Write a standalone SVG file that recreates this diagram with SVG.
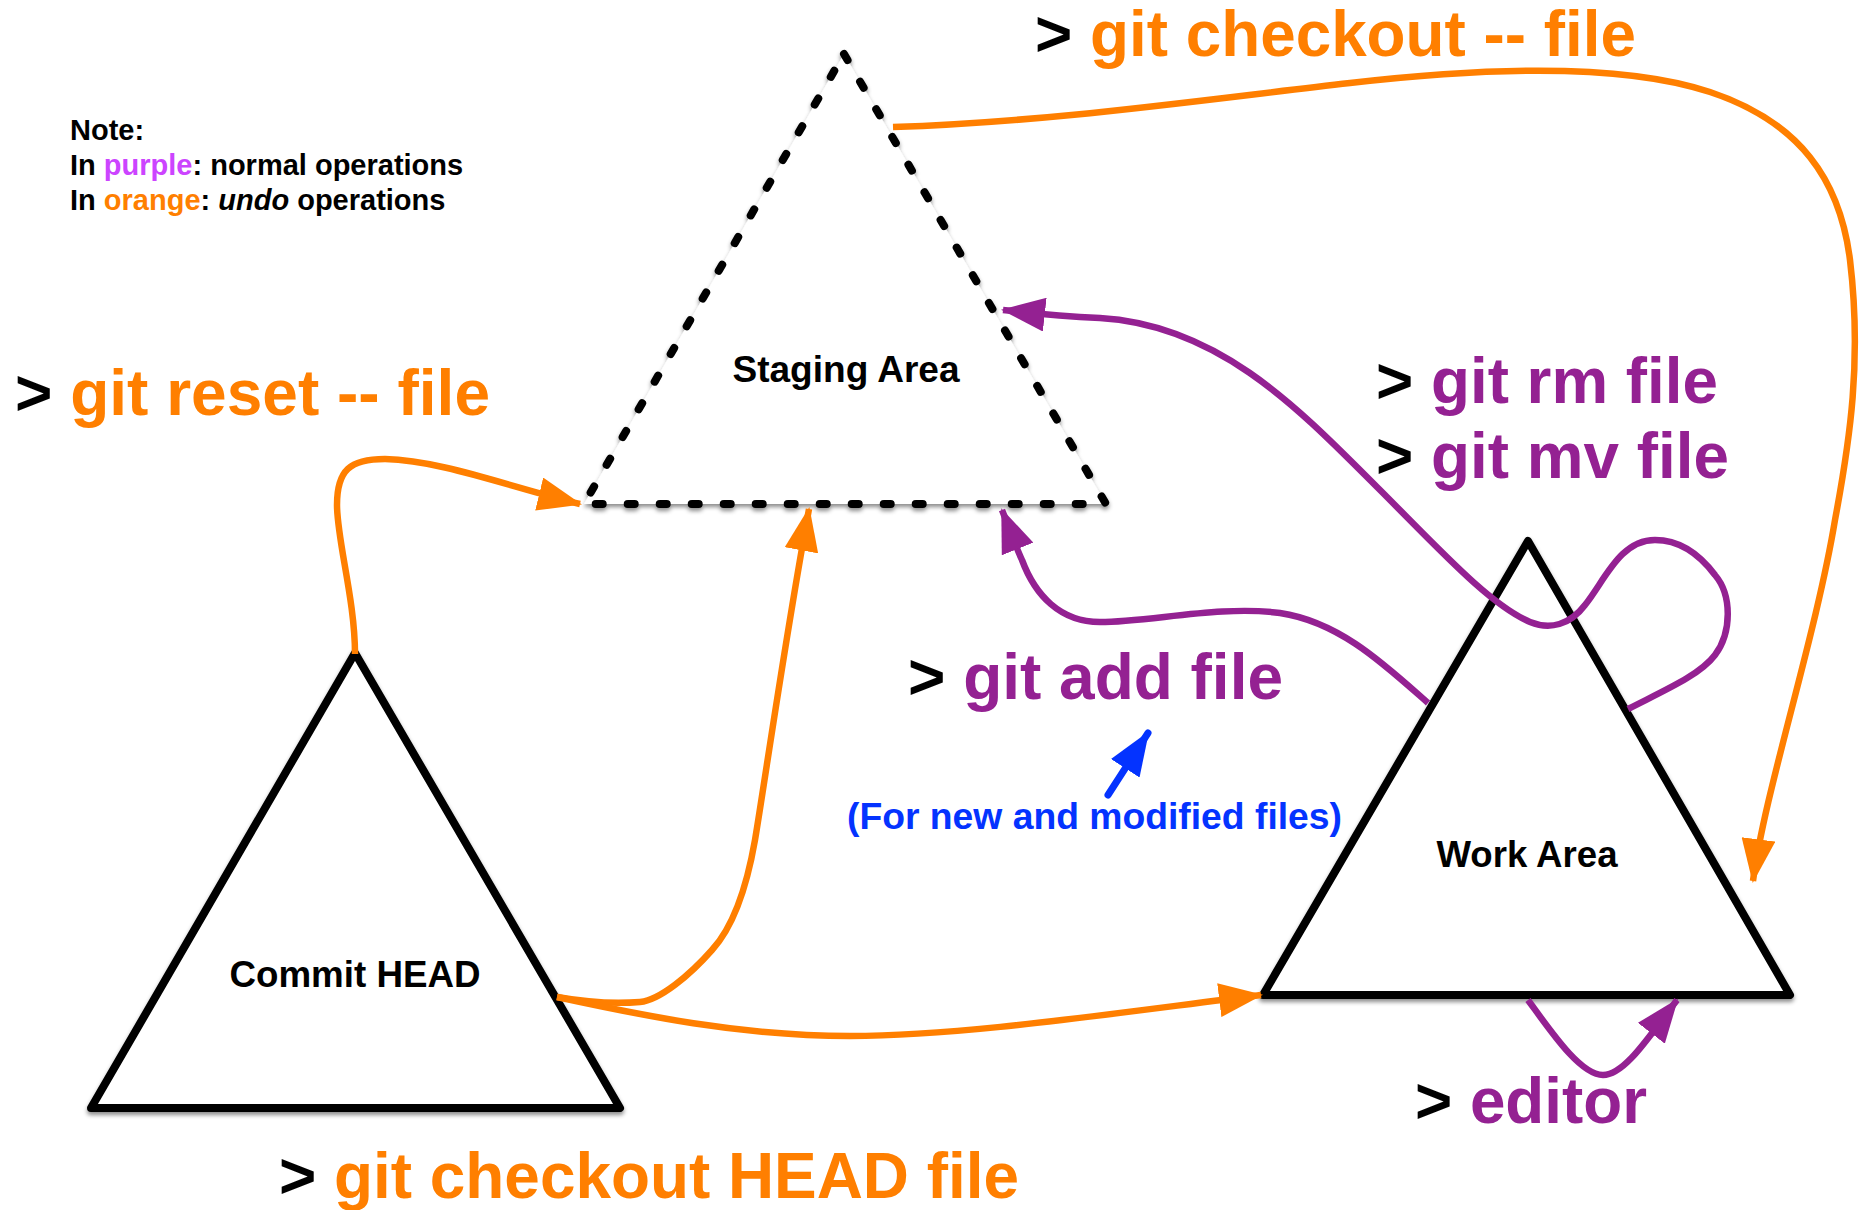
<svg xmlns="http://www.w3.org/2000/svg" width="1863" height="1210" viewBox="0 0 1863 1210">
  <style>
    text { font-family: "Liberation Sans", Arial, Helvetica, sans-serif; font-weight: bold; }
    .tri { fill: #ffffff; stroke: #000000; stroke-width: 8; stroke-linejoin: round; filter: url(#shadow); }
    .tri-dash { fill: #ffffff; stroke: #000000; stroke-width: 8; stroke-linecap: round; stroke-dasharray: 7 25; filter: url(#shadow); }
    .node-label { font-size: 36px; fill: #000000; text-anchor: middle; }
    .cmd { font-size: 64px; }
    .gt { fill: #000000; }
    .orange { fill: #FF7F00; }
    .purple { fill: #942192; }
    .c-orange { fill: none; stroke: #FF7F00; stroke-width: 6.5; }
    .c-purple { fill: none; stroke: #942192; stroke-width: 6.5; }
    .c-blue { fill: none; stroke: #0433FF; stroke-width: 7; stroke-linecap: round; }
    .note { font-size: 29px; fill: #000000; }
  </style>
  <defs>
    <filter id="shadow" x="-10%" y="-10%" width="120%" height="130%">
      <feDropShadow dx="0" dy="3" stdDeviation="2" flood-color="#000000" flood-opacity="0.45"/>
    </filter>
    <marker id="ah-orange" markerUnits="userSpaceOnUse" viewBox="0 0 44 34" markerWidth="44" markerHeight="34" refX="42" refY="17" orient="auto">
      <path d="M0,0 L44,17 L0,34 Z" fill="#FF7F00"/>
    </marker>
    <marker id="ah-purple" markerUnits="userSpaceOnUse" viewBox="0 0 44 34" markerWidth="44" markerHeight="34" refX="42" refY="17" orient="auto">
      <path d="M0,0 L44,17 L0,34 Z" fill="#942192"/>
    </marker>
    <marker id="ah-blue" markerUnits="userSpaceOnUse" viewBox="0 0 44 34" markerWidth="44" markerHeight="34" refX="42" refY="17" orient="auto">
      <path d="M0,0 L44,17 L0,34 Z" fill="#0433FF"/>
    </marker>
  </defs>

  <rect x="0" y="0" width="1863" height="1210" fill="#ffffff"/>

  <g id="note">
    <text class="note" x="70" y="140">Note:</text>
    <text class="note" x="70" y="175">In <tspan fill="#CC44FF">purple</tspan>: normal operations</text>
    <text class="note" x="70" y="210">In <tspan fill="#FF7F00">orange</tspan>: <tspan font-style="italic">undo</tspan> operations</text>
  </g>

  <g id="staging-area">
    <polygon class="tri-dash" points="844,54 1106,504 584,504"/>
    <text class="node-label" x="846" y="382" textLength="227" lengthAdjust="spacingAndGlyphs">Staging Area</text>
  </g>

  <g id="commit-head">
    <polygon class="tri" points="355,653 620,1108 91,1108"/>
    <text class="node-label" x="355" y="987" textLength="251" lengthAdjust="spacingAndGlyphs">Commit HEAD</text>
  </g>

  <g id="work-area">
    <polygon class="tri" points="1528,541 1790,995 1263,995"/>
    <text class="node-label" x="1527" y="867" textLength="181" lengthAdjust="spacingAndGlyphs">Work Area</text>
  </g>

  <g id="connectors">
    <path id="c-reset" class="c-orange" marker-end="url(#ah-orange)" d="M355,654 C355,600 337,540 337,505 C337,470 350,459 385,459 C440,460 510,487 580,504"/>
    <path id="c-checkout-head-staging" class="c-orange" marker-end="url(#ah-orange)" d="M557,997 C585,1002 615,1004 640,1002 C660,1000 690,975 712,950 C735,925 748,880 755,840 C765,780 785,640 809,509"/>
    <path id="c-checkout-head-work" class="c-orange" marker-end="url(#ah-orange)" d="M557,997 C640,1015 740,1036 850,1036 C960,1036 1100,1015 1261,995"/>
    <path id="c-checkout-file" class="c-orange" marker-end="url(#ah-orange)" d="M893,127 C1050,122 1200,100 1350,83 C1480,68 1620,62 1710,92 C1800,122 1840,180 1850,260 C1862,360 1850,440 1835,520 C1815,640 1765,790 1753,881"/>
    <path id="c-rm-mv" class="c-purple" marker-end="url(#ah-purple)" d="M1628,709 C1665,690 1700,675 1715,655 C1732,632 1732,595 1715,575 C1700,555 1680,540 1655,540 C1620,540 1605,580 1585,605 C1570,625 1550,630 1530,622 C1490,605 1440,550 1380,490 C1300,410 1220,325 1100,318 C1060,316 1030,313 1003,310"/>
    <path id="c-add" class="c-purple" marker-end="url(#ah-purple)" d="M1428,703 C1385,665 1340,622 1280,613 C1220,605 1150,622 1100,622 C1060,622 1035,595 1022,560 C1015,545 1008,525 1002,510"/>
    <path id="c-editor" class="c-purple" marker-end="url(#ah-purple)" d="M1528,1000 C1550,1030 1580,1075 1603,1075 C1625,1075 1650,1035 1677,1000"/>
    <path id="c-pointer" class="c-blue" marker-end="url(#ah-blue)" d="M1108,795 L1148,733"/>
  </g>

  <g id="labels">
    <text class="cmd" x="15" y="415" textLength="475" lengthAdjust="spacingAndGlyphs"><tspan class="gt">&gt; </tspan><tspan class="orange">git reset -- file</tspan></text>
    <text class="cmd" x="1035" y="56" textLength="601" lengthAdjust="spacingAndGlyphs"><tspan class="gt">&gt; </tspan><tspan class="orange">git checkout -- file</tspan></text>
    <text class="cmd" x="1376" y="403" textLength="342" lengthAdjust="spacingAndGlyphs"><tspan class="gt">&gt; </tspan><tspan class="purple">git rm file</tspan></text>
    <text class="cmd" x="1376" y="478" textLength="353" lengthAdjust="spacingAndGlyphs"><tspan class="gt">&gt; </tspan><tspan class="purple">git mv file</tspan></text>
    <text class="cmd" x="908" y="699" textLength="375" lengthAdjust="spacingAndGlyphs"><tspan class="gt">&gt; </tspan><tspan class="purple">git add file</tspan></text>
    <text class="cmd" x="1415" y="1123" textLength="232" lengthAdjust="spacingAndGlyphs"><tspan class="gt">&gt; </tspan><tspan class="purple">editor</tspan></text>
    <text class="cmd" x="279" y="1198" textLength="740" lengthAdjust="spacingAndGlyphs"><tspan class="gt">&gt; </tspan><tspan class="orange">git checkout HEAD file</tspan></text>
    <text x="847" y="829" font-size="37" fill="#0433FF" textLength="495" lengthAdjust="spacingAndGlyphs">(For new and modified files)</text>
  </g>
</svg>
